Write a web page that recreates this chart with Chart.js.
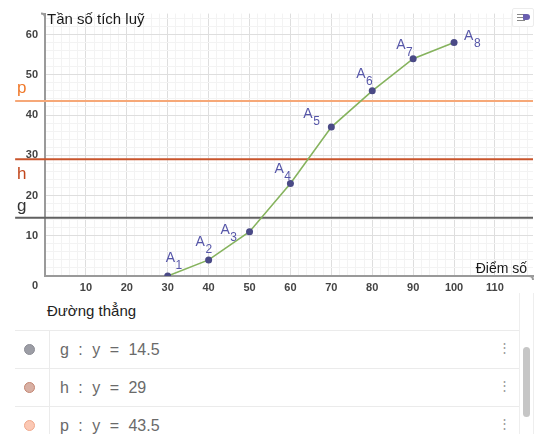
<!DOCTYPE html>
<html lang="vi">
<head>
  <meta charset="UTF-8" />
  <title>Tần số tích luỹ</title>
  <script src="https://cdn.jsdelivr.net/npm/chart.js"></script>
  <style>
    body {
      margin: 0;
      width: 541px;
      height: 434px;
      overflow: hidden;
      position: relative;
      background: #fff;
      font-family: "Liberation Sans", Arial, sans-serif;
    }

    #graph {
      position: absolute;
      left: 0;
      top: 0;
    }

    .style-btn {
      position: absolute;
      left: 512px;
      top: 8px;
      width: 20px;
      height: 17px;
      background: #fff;
      border: 1px solid #ececec;
      border-radius: 2px;
    }
    .style-btn i {
      position: absolute;
      left: 4px;
      width: 8px;
      height: 1px;
      background: #888;
    }
    .style-btn b {
      position: absolute;
      left: 10px;
      top: 5px;
      width: 7px;
      height: 6px;
      background: #6a5fb0;
      border-radius: 1px 4px 4px 1px;
    }

    .hdr {
      position: absolute;
      left: 47px;
      top: 302px;
      font-size: 15px;
      color: #222;
    }

    .row {
      position: absolute;
      left: 15px;
      width: 504px;
      height: 38px;
      border-top: 1px solid #ebebeb;
    }
    .row .dot {
      position: absolute;
      left: 9px;
      top: 13px;
      width: 11px;
      height: 11px;
      border-radius: 50%;
      box-sizing: border-box;
      border: 1px solid;
    }
    .row .sep {
      position: absolute;
      left: 34px;
      top: 0;
      width: 1px;
      height: 38px;
      background: #ebebeb;
    }
    .row .expr {
      position: absolute;
      left: 45px;
      top: 10px;
      font-size: 16px;
      color: #6a6a6a;
      word-spacing: 5px;
      white-space: pre;
    }
    .row .more {
      position: absolute;
      left: 483px;
      top: 9px;
      font-size: 13px;
      color: #999;
    }

    .track-l, .track-r {
      position: absolute;
      top: 293px;
      width: 1px;
      height: 141px;
      background: #eeeeee;
    }
    .thumb {
      position: absolute;
      left: 523px;
      top: 347px;
      width: 7px;
      height: 70px;
      border-radius: 4px;
      background: #c6c6c6;
    }
  </style>
</head>
<body>

  <canvas id="graph" width="541" height="293"></canvas>
  <div class="style-btn"><i style="top:5px"></i><i style="top:8px"></i><i style="top:11px"></i><b></b></div>

  <div class="hdr">Đường thẳng</div>
  <div id="rows"></div>
  <div class="track-l" style="left:519px"></div>
  <div class="track-r" style="left:533px"></div>
  <div class="thumb"></div>

  <script>
    // data
    const scores = [30, 40, 50, 60, 70, 80, 90, 100];
    const cumulative = [0, 4, 11, 23, 37, 46, 54, 58];
    const pointSubs = ['1', '2', '3', '4', '5', '6', '7', '8'];

    const lineNames = ['g', 'h', 'p'];
    const lineValues = [14.5, 29, 43.5];

    const xTickLabels = [10, 20, 30, 40, 50, 60, 70, 80, 90, 100, 110];
    const yTickLabels = [10, 20, 30, 40, 50, 60];

    // graphics view window
    const xMin = -7.3, xMax = 119.3, yMax = 65.2;

    // styles
    const lineColors = ['#616161', '#c9552c', '#f6a878'];
    const lineLabelColors = ['#333333', '#c2461c', '#f07a2c'];
    const dotFill = ['#9c9da5', '#d8b0a4', '#fbc8b4'];
    const dotBorder = ['#8c8d95', '#c48672', '#f0a88c'];
    const pointLabelOffsets = [[-2, -14], [-13, -14], [-29, 2], [-16, -10], [-28, -9], [-16, -13], [-17, -10], [10, -3]];
    const lineLabelDy = [-7, 20, -8];

    // grid every 2 units, darker every 10
    function gridTicks(max) {
      const t = [];
      for (let v = 0; v <= max; v += 2) t.push({ value: v });
      return t;
    }
    function gridColor(c) {
      if (!c.tick) return 'transparent';
      const v = c.tick.value;
      if (v % 10 === 0) return '#dedede';
      if (v % 2 === 0) return '#f3f3f3';
      return 'transparent';
    }

    const labelsPlugin = {
      id: 'ggbLabels',
      afterDraw(chart) {
        const { ctx } = chart;
        const x = chart.scales.x, y = chart.scales.y;
        ctx.save();

        // origin label
        ctx.font = 'bold 11px "Liberation Sans"';
        ctx.fillStyle = '#444';
        ctx.textAlign = 'center';
        ctx.textBaseline = 'middle';
        ctx.fillText('0', x.getPixelForValue(0) - 10, y.getPixelForValue(0) + 10);

        // axis end hooks
        ctx.strokeStyle = '#9a9a9a';
        ctx.lineWidth = 2;
        ctx.beginPath();
        ctx.moveTo(x.left, y.top + 4);
        ctx.quadraticCurveTo(x.left, y.top, x.left - 4, y.top);
        ctx.moveTo(x.right - 4, y.bottom);
        ctx.quadraticCurveTo(x.right, y.bottom, x.right, y.bottom + 4);
        ctx.stroke();

        // axis titles
        ctx.fillStyle = '#1a1a1a';
        ctx.textBaseline = 'alphabetic';
        ctx.textAlign = 'left';
        ctx.font = '15px "Liberation Sans"';
        ctx.fillText('Tần số tích luỹ', x.left + 2, y.top + 10);
        ctx.textAlign = 'right';
        ctx.font = '14px "Liberation Sans"';
        ctx.fillText('Điểm số', x.right - 6, y.bottom - 3);

        // point names A1..A8
        ctx.textAlign = 'left';
        ctx.fillStyle = '#5656a8';
        const meta = chart.getDatasetMeta(0);
        meta.data.forEach((pt, i) => {
          const ox = pt.x + pointLabelOffsets[i][0];
          const oy = pt.y + pointLabelOffsets[i][1];
          ctx.font = '14px "Liberation Sans"';
          ctx.fillText('A', ox, oy);
          const w = ctx.measureText('A').width;
          ctx.font = '12px "Liberation Sans"';
          ctx.fillText(pointSubs[i], ox + w + 0.5, oy + 7);
        });

        // line names
        ctx.font = '17px "Liberation Sans"';
        lineNames.forEach((n, i) => {
          ctx.fillStyle = lineLabelColors[i];
          ctx.fillText(n, 17, y.getPixelForValue(lineValues[i]) + lineLabelDy[i]);
        });

        ctx.restore();
      }
    };

    const datasets = [{
      label: 'Tần số tích luỹ',
      data: scores.map((s, i) => ({ x: s, y: cumulative[i] })),
      borderColor: '#86b35e',
      borderWidth: 1.6,
      pointRadius: 3.5,
      pointBorderWidth: 0,
      pointBackgroundColor: '#4a4a86',
      showLine: true
    }];
    lineNames.forEach((n, i) => {
      datasets.push({
        label: n,
        data: [{ x: xMin, y: lineValues[i] }, { x: xMax, y: lineValues[i] }],
        borderColor: lineColors[i],
        borderWidth: 2,
        pointRadius: 0,
        showLine: true,
        clip: false
      });
    });

    const chart = new Chart(document.getElementById('graph').getContext('2d'), {
      type: 'scatter',
      data: { datasets: datasets },
      options: {
        responsive: false,
        animation: false,
        devicePixelRatio: 1,
        layout: { padding: { top: 10, right: 8, left: 0, bottom: 0 } },
        plugins: {
          legend: { display: false },
          tooltip: { enabled: false }
        },
        scales: {
          x: {
            type: 'linear',
            min: 0,
            max: xMax,
            afterBuildTicks: s => { s.ticks = gridTicks(xMax); },
            afterFit: s => { s.height = 17; },
            grid: { color: gridColor, drawTicks: false, lineWidth: 1 },
            border: { color: '#9a9a9a', width: 2 },
            ticks: {
              autoSkip: false,
              maxRotation: 0,
              padding: 5,
              color: '#444',
              font: { family: 'Liberation Sans', size: 11, weight: 'bold' },
              callback: v => xTickLabels.includes(v) ? String(v) : ''
            }
          },
          y: {
            type: 'linear',
            min: 0,
            max: yMax,
            afterBuildTicks: s => { s.ticks = gridTicks(yMax); },
            afterFit: s => { s.width = 45; },
            grid: { color: gridColor, drawTicks: false, lineWidth: 1 },
            border: { color: '#9a9a9a', width: 2 },
            ticks: {
              autoSkip: false,
              padding: 7,
              color: '#444',
              font: { family: 'Liberation Sans', size: 11, weight: 'bold' },
              callback: v => yTickLabels.includes(v) ? String(v) : ''
            }
          }
        }
      },
      plugins: [labelsPlugin]
    });

    // algebra view rows
    const rows = document.getElementById('rows');
    lineNames.forEach((n, i) => {
      const row = document.createElement('div');
      row.className = 'row';
      row.style.top = (330 + i * 38) + 'px';
      row.innerHTML =
        '<span class="dot" style="background:' + dotFill[i] + ';border-color:' + dotBorder[i] + '"></span>' +
        '<span class="sep"></span>' +
        '<span class="expr">' + n + ' : y = ' + lineValues[i] + '</span>' +
        '<span class="more">⋮</span>';
      rows.appendChild(row);
    });
  </script>

</body>
</html>
